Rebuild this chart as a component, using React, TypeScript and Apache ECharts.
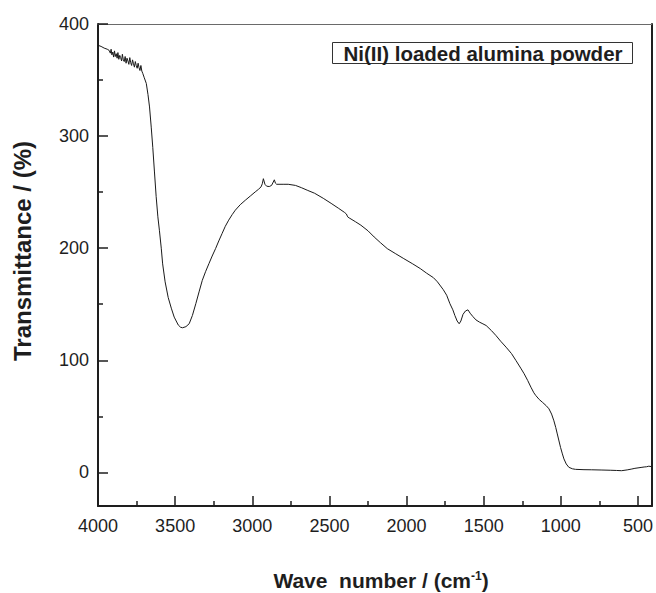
import React, { useEffect, useRef } from "react";
import * as echarts from "echarts";

// Wave number (cm^-1) and transmittance (%)
const waveNumbers = [
  4000, 3980, 3960, 3940, 3928, 3920, 3915, 3910, 3904, 3899, 3893, 3888, 3882, 3876, 3871, 3865,
  3859, 3853, 3847, 3842, 3836, 3830, 3824, 3818, 3812, 3806, 3800, 3794, 3788, 3782, 3776, 3770,
  3764, 3758, 3752, 3746, 3740, 3734, 3728, 3722, 3716, 3710, 3700, 3687, 3676, 3666, 3655, 3645,
  3634, 3623, 3612, 3602, 3590, 3581, 3565, 3545, 3525, 3506, 3480, 3465, 3452, 3430, 3409, 3388,
  3366, 3345, 3324, 3303, 3281, 3260, 3238, 3217, 3196, 3175, 3153, 3130, 3110, 3078, 3045, 3013,
  2981, 2960, 2943, 2935, 2928, 2918, 2907, 2890, 2875, 2864, 2857, 2850, 2842, 2800, 2767, 2720,
  2682, 2640, 2596, 2540, 2489, 2440, 2403, 2390, 2382, 2372, 2360, 2330, 2296, 2250, 2210, 2170,
  2125, 2070, 2018, 1960, 1911, 1870, 1826, 1800, 1762, 1740, 1719, 1700, 1687, 1672, 1659, 1648,
  1634, 1618, 1602, 1588, 1570, 1550, 1527, 1505, 1484, 1450, 1420, 1390, 1355, 1320, 1291, 1260,
  1238, 1215, 1194, 1175, 1162, 1140, 1120, 1095, 1077, 1060, 1045, 1033, 1023, 1012, 1002, 990,
  980, 965, 948, 925, 905, 850, 800, 734, 680, 640, 606, 570, 540, 520, 480, 460,
  445, 430, 415,
];
const transmittance = [
  381, 380, 378.5, 377.5, 376.5, 374, 377.5, 372.5, 375, 370.5, 376, 371, 373.5, 369.5, 374.5, 368.5,
  372, 370, 367, 373, 368, 366.5, 371, 365, 369.5, 367, 364, 370, 365.5, 363, 368, 364.5,
  361.5, 366.5, 363, 360.5, 365, 361, 358.5, 363, 358, 356, 352, 347, 337, 326, 308, 290,
  268, 246, 228, 216, 200, 186, 170, 156, 146.5, 138.5, 131.5, 129.5, 129, 130, 132.6, 140,
  150.5, 161, 171.3, 179, 186.2, 193, 199.6, 206.5, 213, 219.5, 225, 230, 233.9, 238.8, 242.8, 246.5,
  250.2, 252.5, 254.7, 257.5, 262, 257, 255.3, 255, 256, 259, 261, 258, 257, 257,
  257, 256, 254, 251.5, 249, 244.5, 240, 235.5, 232, 230.5, 228, 227, 226, 223.5, 220.5, 215.5,
  210, 205, 199.6, 195, 190.7, 186, 181.8, 177.7, 173.7, 170, 163, 158, 150.5, 145, 140, 135,
  132.6, 135, 141, 144, 145, 142, 139, 136, 134, 132.5, 131, 126.5, 122, 117, 111.7, 106,
  99.8, 93, 88, 82, 76, 71, 68.5, 65, 62.6, 59.5, 56.7, 52, 46, 40, 34.3, 28,
  22.3, 16.5, 12, 7.5, 4.5, 3.2, 2.7, 2.4, 2.3, 2.1, 1.9, 1.7, 1.5, 2.2, 3, 3.6,
  4.4, 4.8, 5, 5.5, 5.2,
];

// Axis range
const xMin = 4000;
const xMax = 410;
const xInterval = 500;
const yMin = -30;
const yMax = 400;

const legendText = "Ni(II) loaded alumina powder";
const yTitle = "Transmittance / (%)";
const xTitleMain = "Wave  number / (cm";
const xTitleSup = "-1";
const xTitleEnd = ")";

const FONT = "'Liberation Sans', Arial, Helvetica, sans-serif";
const INK = "#1e1e1e";

export default function App() {
  const ref = useRef<HTMLDivElement>(null);
  useEffect(() => {
    if (!ref.current) return;
    const chart = echarts.init(ref.current, undefined, { renderer: "svg" });
    const data = waveNumbers.map((w, i) => [-w, transmittance[i]]);
    chart.setOption({
      animation: false,
      backgroundColor: "#ffffff",
      grid: { left: 98, right: 3, top: 24, bottom: 87 },
      xAxis: [
        {
          type: "value",
          position: "bottom",
          min: -xMin,
          max: -xMax,
          interval: xInterval,
          axisLine: { show: true, onZero: false, lineStyle: { color: INK, width: 2 } },
          axisTick: { show: true, inside: true, length: 10, lineStyle: { color: INK, width: 1.5 } },
          minorTick: { show: true, splitNumber: 2, length: 5, lineStyle: { color: INK, width: 1.5 } },
          splitLine: { show: false },
          axisLabel: {
            margin: 11,
            color: INK,
            fontSize: 18,
            fontFamily: FONT,
            formatter: (v: number) => (Math.round(-v) % 500 === 0 ? String(Math.round(-v)) : ""),
          },
        },
        {
          type: "value",
          position: "top",
          min: -xMin,
          max: -xMax,
          axisLine: { show: true, onZero: false, lineStyle: { color: "#6a6a6a", width: 1 } },
          axisTick: { show: false },
          axisLabel: { show: false },
          splitLine: { show: false },
        },
      ],
      yAxis: [
        {
          type: "value",
          position: "left",
          min: yMin,
          max: yMax,
          splitNumber: 5,
          axisLine: { show: true, onZero: false, lineStyle: { color: INK, width: 2 } },
          axisTick: { show: true, inside: true, length: 10, lineStyle: { color: INK, width: 1.5 } },
          minorTick: { show: true, splitNumber: 2, length: 5, lineStyle: { color: INK, width: 1.5 } },
          splitLine: { show: false },
          axisLabel: {
            margin: 9,
            color: INK,
            fontSize: 18,
            fontFamily: FONT,
            formatter: (v: number) => (v >= 0 && v % 100 === 0 ? String(v) : ""),
          },
        },
        {
          type: "value",
          position: "right",
          min: yMin,
          max: yMax,
          axisLine: { show: true, onZero: false, lineStyle: { color: INK, width: 2 } },
          axisTick: { show: false },
          axisLabel: { show: false },
          splitLine: { show: false },
        },
      ],
      series: [
        {
          type: "line",
          xAxisIndex: 0,
          yAxisIndex: 0,
          data,
          showSymbol: false,
          symbol: "none",
          lineStyle: { color: "#1a1a1a", width: 1 },
          z: 3,
        },
      ],
      graphic: [
        {
          type: "rect",
          left: 332,
          top: 42,
          shape: { width: 300, height: 21 },
          style: { fill: "#ffffff", stroke: "#333333", lineWidth: 1 },
          z: 10,
        },
        {
          type: "text",
          x: 483,
          y: 53,
          style: {
            text: legendText,
            fill: INK,
            font: `bold 20.5px ${FONT}`,
            textAlign: "center",
            textVerticalAlign: "middle",
          },
          z: 11,
        },
        {
          type: "text",
          x: 22,
          y: 251,
          rotation: Math.PI / 2,
          style: {
            text: yTitle,
            fill: INK,
            font: `bold 24px ${FONT}`,
            textAlign: "center",
            textVerticalAlign: "middle",
          },
        },
        {
          type: "text",
          x: 381,
          y: 580,
          style: {
            text: `{m|${xTitleMain}}{s|${xTitleSup}}{m|${xTitleEnd}}`,
            textAlign: "center",
            textVerticalAlign: "middle",
            rich: {
              m: { fill: INK, font: `bold 21px ${FONT}`, verticalAlign: "bottom" },
              s: { fill: INK, font: `bold 12px ${FONT}`, verticalAlign: "top" },
            },
          },
        },
      ],
    });
    return () => chart.dispose();
  }, []);
  return (
    <div
      ref={ref}
      style={{ position: "absolute", left: 0, top: 0, width: 656, height: 593 }}
    />
  );
}
